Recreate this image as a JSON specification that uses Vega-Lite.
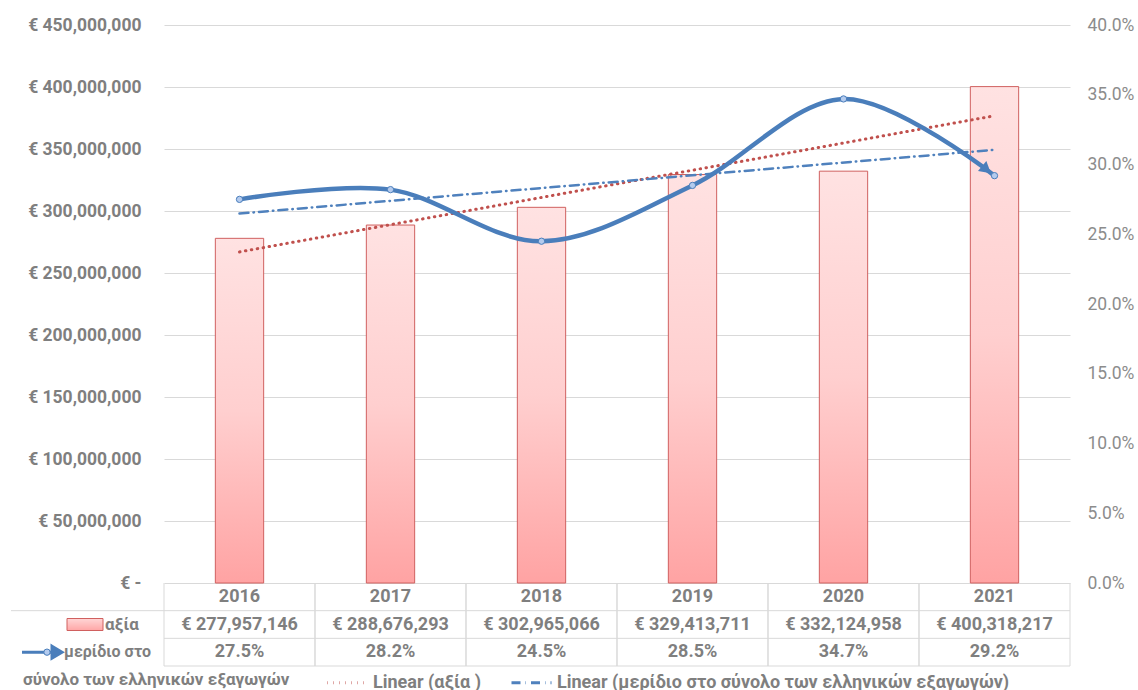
{
  "$schema": "https://vega.github.io/schema/vega-lite/v6.json",
  "padding": {"left": 10, "top": 16, "right": 5, "bottom": 0},
  "background": "white",
  "bounds": "flush",
  "spacing": 0,
  "config": {
    "font": "Roboto",
    "view": {"stroke": null},
    "locale": {"number": {"decimal": ".", "thousands": ",", "grouping": [3], "currency": ["€ ", ""]}}
  },
  "datasets": {
    "main": [
      {"year": 2016, "value": 277957146, "share": 0.275},
      {"year": 2017, "value": 288676293, "share": 0.282},
      {"year": 2018, "value": 302965066, "share": 0.245},
      {"year": 2019, "value": 329413711, "share": 0.285},
      {"year": 2020, "value": 332124958, "share": 0.347},
      {"year": 2021, "value": 400318217, "share": 0.292}
    ]
  },
  "vconcat": [
    {
      "width": 906,
      "height": 558,
      "data": {"name": "main"},
      "layer": [
        {
          "encoding": {
            "x": {"field": "year", "type": "ordinal", "scale": {"paddingInner": 0, "paddingOuter": 0}, "axis": null},
            "y": {
              "field": "value", "type": "quantitative",
              "scale": {"domain": [0, 450000000], "nice": false},
              "axis": {
                "orient": "left", "values": [0, 50000000, 100000000, 150000000, 200000000, 250000000, 300000000, 350000000, 400000000, 450000000],
                "labelExpr": "datum.value == 0 ? '€ -' : '€ ' + format(datum.value, ',')",
                "title": null, "ticks": false, "domain": false, "labelPadding": 23,
                "labelFont": "Roboto", "labelFontSize": 17.5, "labelFontWeight": "bold", "labelColor": "#7f7f7f",
                "grid": true, "gridColor": "#d9d9d9", "gridWidth": 1,
                "encode": {"labels": {"update": {"dx": [{"test": "datum.value === 0", "value": -8}, {"value": 0}]}}}
              }
            }
          },
          "layer": [
            {
              "mark": {
                "type": "bar", "width": {"band": 0.32}, "stroke": "#d0605f", "strokeWidth": 1,
                "fill": {"gradient": "linear", "x1": 0, "y1": 0, "x2": 0, "y2": 1,
                  "stops": [{"offset": 0, "color": "#ffe2e2"}, {"offset": 0.5, "color": "#ffcfcf"}, {"offset": 1, "color": "#ffa3a3"}]}
              }
            },
            {
              "transform": [{"regression": "value", "on": "year"}],
              "mark": {"type": "line", "strokeWidth": 3, "strokeCap": "round"},
              "encoding": {
                "color": {"datum": "Linear (αξία )", "type": "nominal",
                  "scale": {"domain": ["Linear (αξία )", "Linear (μερίδιο στο σύνολο των ελληνικών εξαγωγών)"], "range": ["#c0504d", "#4f81bd"]},
                  "legend": {"orient": "none", "legendX": 162, "legendY": 636, "direction": "horizontal", "title": null,
                    "labelFont": "Roboto", "labelFontSize": 18, "labelFontWeight": "bold", "labelColor": "#7f7f7f", "labelLimit": 600,
                    "symbolType": "stroke", "symbolSize": 1600, "symbolStrokeWidth": 3, "columnPadding": 24, "labelOffset": 4}},
                "strokeDash": {"datum": "Linear (αξία )", "type": "nominal",
                  "scale": {"domain": ["Linear (αξία )", "Linear (μερίδιο στο σύνολο των ελληνικών εξαγωγών)"], "range": [[0.5, 5.5], [9, 5, 0.5, 5]]},
                  "legend": {"orient": "none", "legendX": 162, "legendY": 636, "direction": "horizontal", "title": null,
                    "labelFont": "Roboto", "labelFontSize": 18, "labelFontWeight": "bold", "labelColor": "#7f7f7f", "labelLimit": 600,
                    "symbolType": "stroke", "symbolSize": 1600, "symbolStrokeWidth": 3, "columnPadding": 24, "labelOffset": 4}}
              }
            }
          ]
        },
        {
          "encoding": {
            "x": {"field": "year", "type": "ordinal", "scale": {"paddingInner": 0, "paddingOuter": 0}, "axis": null},
            "y": {
              "field": "share", "type": "quantitative",
              "scale": {"domain": [0, 0.4], "nice": false},
              "axis": {
                "orient": "right", "values": [0, 0.05, 0.1, 0.15, 0.2, 0.25, 0.3, 0.35, 0.4], "format": ".1%",
                "title": null, "ticks": false, "domain": false, "grid": false, "labelPadding": 17,
                "labelFont": "Roboto", "labelFontSize": 17.5, "labelColor": "#8c8c8c"
              }
            }
          },
          "layer": [
            {
              "transform": [{"regression": "share", "on": "year"}],
              "mark": {"type": "line", "strokeWidth": 2.5, "strokeCap": "round"},
              "encoding": {
                "color": {"datum": "Linear (μερίδιο στο σύνολο των ελληνικών εξαγωγών)", "type": "nominal"},
                "strokeDash": {"datum": "Linear (μερίδιο στο σύνολο των ελληνικών εξαγωγών)", "type": "nominal"}
              }
            },
            {
              "mark": {"type": "line", "interpolate": "cardinal", "strokeWidth": 4.5, "color": "#4a7ebb", "strokeCap": "round"}
            },
            {
              "transform": [{"filter": "datum.year == 2021"}],
              "mark": {"type": "point", "shape": "triangle-right", "filled": true, "color": "#4a7ebb", "opacity": 1, "size": 170, "angle": 40, "xOffset": -8, "yOffset": -6}
            },
            {
              "mark": {"type": "point", "filled": true, "fill": "#b4cbee", "stroke": "#4a7ebb", "strokeWidth": 1, "size": 40, "opacity": 1}
            }
          ]
        }
      ],
      "resolve": {"scale": {"y": "independent"}}
    },
    {
      "width": 906,
      "height": 83,
      "data": {"name": "main"},
      "encoding": {
        "x": {"field": "year", "type": "ordinal", "scale": {"paddingInner": 0, "paddingOuter": 0}, "axis": null}
      },
      "layer": [
        {
          "mark": {"type": "rule", "color": "#d9d9d9", "strokeWidth": 1},
          "encoding": {"x": {"field": "year", "type": "ordinal", "bandPosition": 0}}
        },
        {
          "mark": {"type": "rule", "color": "#d9d9d9", "strokeWidth": 1},
          "encoding": {"x": {"field": "year", "type": "ordinal", "bandPosition": 1}}
        },
        {
          "data": {"values": [{"row": "year"}]},
          "mark": {"type": "rule", "color": "#d9d9d9", "strokeWidth": 1},
          "encoding": {
            "y": {"field": "row", "type": "nominal", "bandPosition": 1, "scale": {"domain": ["year", "value", "share"], "paddingInner": 0, "paddingOuter": 0}, "axis": null},
            "x": {"value": -153},
            "x2": {"value": 906}
          }
        },
        {
          "data": {"values": [{"row": "value"}, {"row": "share"}]},
          "mark": {"type": "rule", "color": "#d9d9d9", "strokeWidth": 1},
          "encoding": {
            "y": {"field": "row", "type": "nominal", "bandPosition": 1},
            "x": {"value": 0},
            "x2": {"value": 906}
          }
        },
        {
          "mark": {"type": "text", "font": "Roboto", "fontSize": 18, "fontWeight": "bold", "color": "#7f7f7f"},
          "encoding": {
            "y": {"datum": "year", "type": "nominal"},
            "text": {"field": "year", "type": "nominal"}
          }
        },
        {
          "mark": {"type": "text", "font": "Roboto", "fontSize": 18, "fontWeight": "bold", "color": "#7f7f7f"},
          "encoding": {
            "y": {"datum": "value", "type": "nominal"},
            "text": {"field": "value", "type": "quantitative", "format": "$,"}
          }
        },
        {
          "mark": {"type": "text", "font": "Roboto", "fontSize": 18, "fontWeight": "bold", "color": "#7f7f7f"},
          "encoding": {
            "y": {"datum": "share", "type": "nominal"},
            "text": {"field": "share", "type": "quantitative", "format": ".1%"}
          }
        },
        {
          "data": {"values": [{"row": "value"}]},
          "mark": {"type": "point", "shape": "M-1.8,-0.6H1.8V0.6H-1.8Z", "size": 400, "filled": true, "opacity": 1,
            "fill": {"gradient": "linear", "x1": 0, "y1": 0, "x2": 0, "y2": 1, "stops": [{"offset": 0, "color": "#ffd6d6"}, {"offset": 1, "color": "#ffa6a6"}]},
            "stroke": "#d0605f", "strokeWidth": 1},
          "encoding": {"x": {"value": -79}, "y": {"field": "row", "type": "nominal"}}
        },
        {
          "data": {"values": [{"row": "value", "label": "αξία"}]},
          "mark": {"type": "text", "align": "left", "font": "Roboto", "fontSize": 17, "fontWeight": "bold", "color": "#7f7f7f"},
          "encoding": {"x": {"value": -59}, "y": {"field": "row", "type": "nominal"}, "text": {"field": "label"}}
        },
        {
          "data": {"values": [{"row": "share"}]},
          "mark": {"type": "point", "shape": "M-1,0H0.5M0.5,-0.3L1,0L0.5,0.3Z", "size": 1600, "filled": true, "opacity": 1,
            "fill": "#4a7ebb", "stroke": "#4a7ebb", "strokeWidth": 3},
          "encoding": {"x": {"value": -122}, "y": {"field": "row", "type": "nominal"}}
        },
        {
          "data": {"values": [{"row": "share"}]},
          "mark": {"type": "point", "filled": true, "fill": "#b4cbee", "stroke": "#4a7ebb", "strokeWidth": 1, "size": 40, "opacity": 1},
          "encoding": {"x": {"value": -117}, "y": {"field": "row", "type": "nominal"}}
        },
        {
          "data": {"values": [{"row": "share", "label": "μερίδιο στο", "label2": "σύνολο των ελληνικών εξαγωγών"}]},
          "layer": [
            {
              "mark": {"type": "text", "align": "left", "font": "Roboto", "fontSize": 16, "fontWeight": "bold", "color": "#7f7f7f"},
              "encoding": {"x": {"value": -100}, "y": {"field": "row", "type": "nominal"}, "text": {"field": "label"}}
            },
            {
              "mark": {"type": "text", "align": "left", "dy": 28, "font": "Roboto", "fontSize": 17, "fontWeight": "bold", "color": "#7f7f7f"},
              "encoding": {"x": {"value": -141}, "y": {"field": "row", "type": "nominal"}, "text": {"field": "label2"}}
            }
          ]
        }
      ]
    }
  ]
}
